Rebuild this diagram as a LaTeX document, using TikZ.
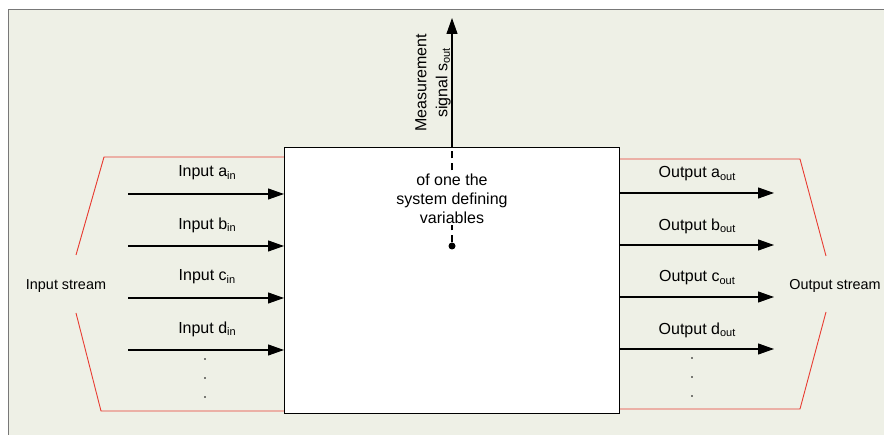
\documentclass[tikz,border=0pt]{standalone}
\usepackage{fontspec}
\setmainfont{Liberation Sans}
\usetikzlibrary{arrows.meta}
\definecolor{bgc}{RGB}{238,240,230}
\definecolor{framec}{RGB}{120,120,120}
\definecolor{redc}{RGB}{232,60,50}
\newcommand\mysub[1]{\raisebox{-0.3ex}{\fontsize{11}{11}\selectfont #1}}
\begin{document}
\begin{tikzpicture}[x=1pt,y=-1pt,
  lab/.style={font=\fontsize{16}{18}\selectfont, inner sep=0pt},
  slab/.style={font=\fontsize{14.4}{16}\selectfont, inner sep=0pt},
  tip/.style={-{Triangle[length=16pt,width=11pt]}},
  flow/.style={line width=1.1pt, tip},
  streamline/.style={redc, line width=0.9pt},
  dotc/.style={circle, fill=black, inner sep=0pt, minimum size=1.6pt}]
\useasboundingbox (0,0) rectangle (884,435);
\fill[white] (0,0) rectangle (884,435);
\fill[bgc] (8,10) rectangle (886,437);
\draw[framec, line width=1pt] (8,437) -- (8,10) -- (886,10);
% red stream brackets
\draw[streamline] (76,255) -- (104,157) -- (284,157);
\draw[streamline] (76,313) -- (101,411) -- (284,411);
\draw[streamline] (826,256) -- (800,159) -- (620,159);
\draw[streamline] (826,312) -- (800,409) -- (620,409);
% main box
\node[draw=black, fill=white, line width=1.1pt, minimum width=335pt, minimum height=266pt, inner sep=0pt, anchor=north west] (box) at (284,147) {};
% measurement
\node[dotc, minimum size=7pt] (src) at (452,246) {};
\coordinate (mtop) at (452,18);
\draw[line width=1.1pt, dashed, dash pattern=on 7pt off 5pt] (src) -- (452,147);
\node[fill=white, align=center, font=\fontsize{16}{19}\selectfont, inner sep=1pt] (var) at (452,199) {of one the\\system defining\\variables};
\draw[flow] (box.north -| src) -- (mtop);
\node[inner sep=0pt, rotate=90, align=center, font=\fontsize{16}{21}\selectfont] (meas) at (433,83) {Measurement\\signal s\mysub{out}};
% inputs and outputs
\foreach \n/\y in {a/194,b/246,c/298,d/350}{
  \coordinate (in\n) at (128,\y);
  \draw[flow] (in\n) -- (box.west |- in\n);
  \node[lab] (lin\n) at (207,\y-21) {Input \n\mysub{in}};
  \coordinate (out\n) at (774,\y-1);
  \draw[flow] (box.east |- out\n) -- (out\n);
  \node[lab] (lout\n) at (697,\y-20) {Output \n\mysub{out}};
}
\foreach \y in {359,378,397}{
  \node[dotc] (dl\y) at (205,\y) {};
  \node[dotc] (dr\y) at (692,\y-1) {};
}
\node[slab] (instream) at (66,286) {Input stream};
\node[slab] (outstream) at (835,286) {Output stream};
\end{tikzpicture}
\end{document}
